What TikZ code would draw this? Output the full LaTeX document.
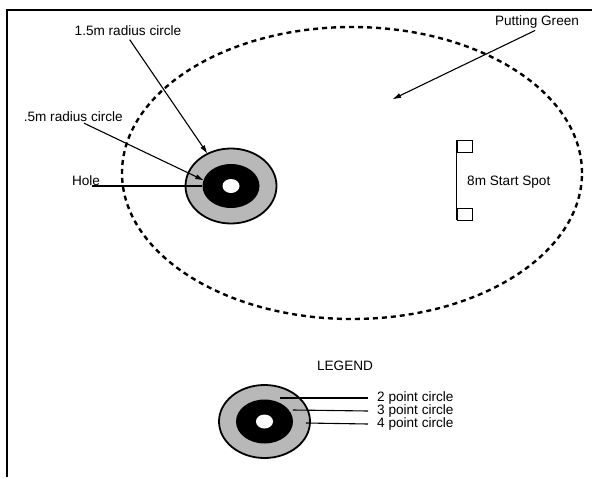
\documentclass[tikz,border=0pt]{standalone}
\usepackage{fontspec}
\setmainfont{Liberation Sans}
\usetikzlibrary{shapes.geometric,arrows.meta}
\begin{document}
\begin{tikzpicture}[x=1pt, y=-1pt,
    txt/.style={font=\fontsize{13.6}{16}\selectfont, inner sep=1pt},
    ring/.style={ellipse, draw, line width=1.8pt, inner sep=0pt},
    lead/.style={line width=1.1pt},
    arr/.style={lead, -{Triangle[length=8pt, width=4.5pt]}}]
    \useasboundingbox (0,0) rectangle (592,477);
    % frame
    \draw[line width=1.5pt] (7,477) -- (7,10) -- (592,10);
    % putting green
    \node [ellipse, draw, line width=2.4pt, dash pattern=on 5pt off 4pt,
        minimum width=460pt, minimum height=292pt] (green) at (352,173) {};
    % hole target
    \node [ring, fill=black!28, minimum width=91pt, minimum height=75pt] (hOut) at (231,186) {};
    \node [ellipse, fill=black, minimum width=57pt, minimum height=44pt] (hMid) at (231,186) {};
    \node [ellipse, fill=white, minimum width=17pt, minimum height=14pt] (hole) at (231,186) {};
    % labels
    \node [txt] (l15) at (128,31) {1.5m radius circle};
    \node [txt, anchor=east] (l05) at (124,117) {.5m radius circle};
    \node [txt] (lHole) at (86,181) {Hole};
    \node [txt] (lGreen) at (537,22) {Putting Green};
    \coordinate (gPt) at (393,99);
    \draw[arr, shorten <=3pt] (l15.south) -- (hOut.126);
    \draw[arr] (l05.-30) -- (hMid.168);
    \draw[lead] ([xshift=6pt]lHole.south |- hole.west) -- (hMid.west);
    \draw[arr, shorten <=2pt] (lGreen.south) -- (gPt);
    % start spot
    \node [draw, line width=0.9pt, minimum width=15pt, minimum height=12pt, inner sep=0pt] (sTop) at (464.5,146) {};
    \node [draw, line width=0.9pt, minimum width=15pt, minimum height=12pt, inner sep=0pt] (sBot) at (464.5,214) {};
    \draw[line width=1.3pt] (sTop.north west) -- (sBot.south west);
    \node [txt, anchor=west] (lSpot) at (466,182) {8m Start Spot};
    % legend
    \node [txt] (lLeg) at (345,366) {LEGEND};
    \node [ring, fill=black!28, minimum width=91pt, minimum height=73pt] (gOut) at (264.5,421.5) {};
    \node [ellipse, fill=black, minimum width=57pt, minimum height=44pt] (gMid) at (264.5,421.5) {};
    \node [ellipse, fill=white, minimum width=17pt, minimum height=14pt] (gIn) at (264.5,421.5) {};
    \node [txt, anchor=west] (p2) at (376,398) {2 point circle};
    \node [txt, anchor=west] (p3) at (376,411) {3 point circle};
    \node [txt, anchor=west] (p4) at (376,424) {4 point circle};
    \draw[lead] (p2.west) ++(-8,0) -- (280,398);
    \draw[lead] (p3.west) ++(-8,0) -- (293,410);
    \draw[lead] (p4.west) ++(-8,0) -- (306,423);
\end{tikzpicture}
\end{document}
